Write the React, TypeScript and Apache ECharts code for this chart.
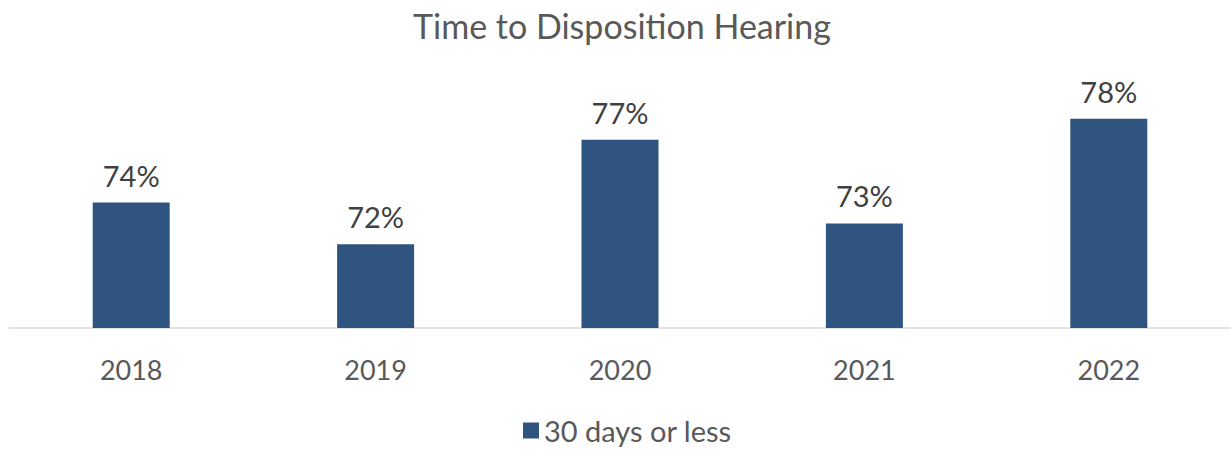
import React, { useEffect, useRef } from "react";
import * as echarts from "echarts";

const categories = ["2018", "2019", "2020", "2021", "2022"];
const values = [74, 72, 77, 73, 78];
const seriesName = "30 days or less";
const titleText = "Time to Disposition Hearing";

const FONT = "Lato";

export default function App() {
  const ref = useRef<HTMLDivElement>(null);
  useEffect(() => {
    if (!ref.current) return;
    const chart = echarts.init(ref.current, undefined, { renderer: "svg" });
    chart.setOption({
      animation: false,
      backgroundColor: "#ffffff",
      title: {
        text: titleText,
        left: 617,
        textAlign: "center",
        top: 3,
        textStyle: { fontFamily: FONT, fontSize: 34, fontWeight: "normal", color: "#595959" },
      },
      legend: {
        data: [seriesName],
        bottom: 0,
        left: 518,
        icon: "rect",
        itemWidth: 16,
        itemHeight: 16,
        itemGap: 6,
        textStyle: { fontFamily: FONT, fontSize: 29, color: "#595959" },
      },
      grid: { left: 9, top: 77, width: 1225, height: 251, containLabel: false },
      xAxis: {
        type: "category",
        data: categories,
        axisLine: { lineStyle: { color: "#d9d9d9", width: 1.5 } },
        axisTick: { show: false },
        axisLabel: { fontFamily: FONT, fontSize: 27, color: "#595959", margin: 28 },
      },
      yAxis: {
        type: "value",
        min: 68,
        max: 80,
        show: false,
        splitLine: { show: false },
      },
      series: [
        {
          name: seriesName,
          type: "bar",
          data: values,
          barWidth: 77,
          itemStyle: { color: "#2F5480" },
          label: {
            show: true,
            position: "top",
            distance: 13,
            formatter: "{c}%",
            fontFamily: FONT,
            fontSize: 29,
            color: "#404040",
          },
        },
      ],
    });
    return () => chart.dispose();
  }, []);
  return (
    <div
      ref={ref}
      style={{ position: "absolute", left: 0, top: 0, width: 1231, height: 450 }}
    />
  );
}
